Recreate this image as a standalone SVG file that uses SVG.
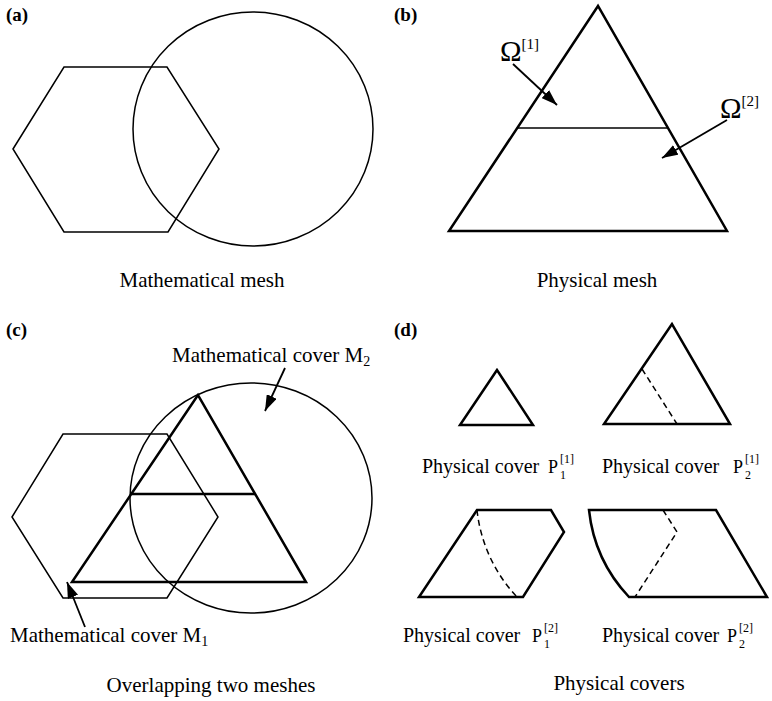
<svg xmlns="http://www.w3.org/2000/svg" width="772" height="701" viewBox="0 0 772 701">
<defs>
<marker id="ah" markerUnits="userSpaceOnUse" markerWidth="16" markerHeight="11" refX="16" refY="5.5" orient="auto">
<path d="M0,0 L16,5.5 L0,11 z" fill="#000"/>
</marker>
<style>
.thin{fill:none;stroke:#000;stroke-width:1.5}
.thick{fill:none;stroke:#000;stroke-width:2.5;stroke-linejoin:miter}
.dash{fill:none;stroke:#000;stroke-width:1.5;stroke-dasharray:6,4}
.arr{fill:none;stroke:#000;stroke-width:1.8;marker-end:url(#ah)}
text{font-family:"Liberation Serif","Times New Roman",serif;fill:#000}
.t{font-size:21px}
.pc{font-size:20px}
.lab{font-size:19px;font-weight:bold}
.om{font-size:29px}
.sup{font-size:15px}
.p{font-size:18px}
.s{font-size:12px}
</style>
</defs>
<rect width="772" height="701" fill="#fff"/>

<g id="panel-a">
<text class="lab" x="6" y="21">(a)</text>
<polygon id="hexagon-a" class="thin" points="13,149 64,67 167,67 219,149 168,232 64,232"/>
<ellipse id="circle-a" class="thin" cx="253" cy="129" rx="120" ry="117"/>
<text class="t" x="202" y="287" text-anchor="middle">Mathematical mesh</text>
</g>

<g id="panel-b">
<text class="lab" x="394" y="21">(b)</text>
<polygon id="triangle-b" class="thick" points="598,6 449,231 727,231"/>
<line class="thin" x1="518" y1="128" x2="668" y2="128"/>
<text class="om" x="500" y="61">Ω<tspan class="sup" dy="-12">[1]</tspan></text>
<text class="om" x="720" y="118">Ω<tspan class="sup" dy="-12">[2]</tspan></text>
<text class="t" x="597" y="287" text-anchor="middle">Physical mesh</text>
</g>

<g id="panel-c">
<text class="lab" x="6" y="336">(c)</text>
<polygon id="hexagon-c" class="thin" points="12,517 63,434 167,434 218,517 167,598 63,598"/>
<ellipse id="circle-c" class="thin" cx="251" cy="498" rx="121" ry="115"/>
<polygon id="triangle-c" class="thick" points="198,395 72,582 306,582"/>
<line class="thick" x1="132" y1="494" x2="255" y2="494"/>
<text class="t" x="172" y="362">Mathematical cover M<tspan font-size="14" dy="4">2</tspan></text>
<text class="t" x="10" y="642">Mathematical cover M<tspan font-size="14" dy="4">1</tspan></text>
<text class="t" x="211" y="692" text-anchor="middle">Overlapping two meshes</text>
</g>

<g id="panel-d">
<text class="lab" x="394" y="336">(d)</text>
<polygon id="cover-p1-1" class="thick" points="497,370 460,425 533,425"/>
<g id="cover-p2-1">
<polygon class="thick" points="672,324 604,424 730,424"/>
<line class="dash" x1="642" y1="369" x2="677" y2="424"/>
</g>
<g id="cover-p1-2">
<polygon class="thick" points="477,510 551,510 564,532 523,597 419,597"/>
<path class="dash" d="M477,510 A150,150 0 0 0 517,597"/>
</g>
<g id="cover-p2-2">
<path class="thick" d="M589,510 L716,510 L767,597 L629,597 A150,150 0 0 1 589,510 Z"/>
<polyline class="dash" points="663,510 677,532 635,597"/>
</g>
<text class="pc" x="422" y="473">Physical cover</text>
<text class="p" x="548" y="473">P</text><text class="s" x="560" y="479">1</text><text class="s" x="560" y="463">[1]</text>
<text class="pc" x="602" y="473">Physical cover</text>
<text class="p" x="733" y="473">P</text><text class="s" x="745" y="479">2</text><text class="s" x="745" y="463">[1]</text>
<text class="pc" x="403" y="642">Physical cover</text>
<text class="p" x="532" y="642">P</text><text class="s" x="544" y="648">1</text><text class="s" x="544" y="632">[2]</text>
<text class="pc" x="602" y="642">Physical cover</text>
<text class="p" x="727" y="642">P</text><text class="s" x="739" y="648">2</text><text class="s" x="739" y="632">[2]</text>
<text class="t" x="619" y="690" text-anchor="middle">Physical covers</text>
</g>

<g id="connectors">
<line class="arr" x1="513" y1="64" x2="557" y2="105"/>
<line class="arr" x1="727" y1="120" x2="662" y2="158"/>
<line class="arr" x1="285" y1="368" x2="265" y2="411"/>
<line class="arr" x1="85" y1="627" x2="67" y2="582"/>
</g>
</svg>
